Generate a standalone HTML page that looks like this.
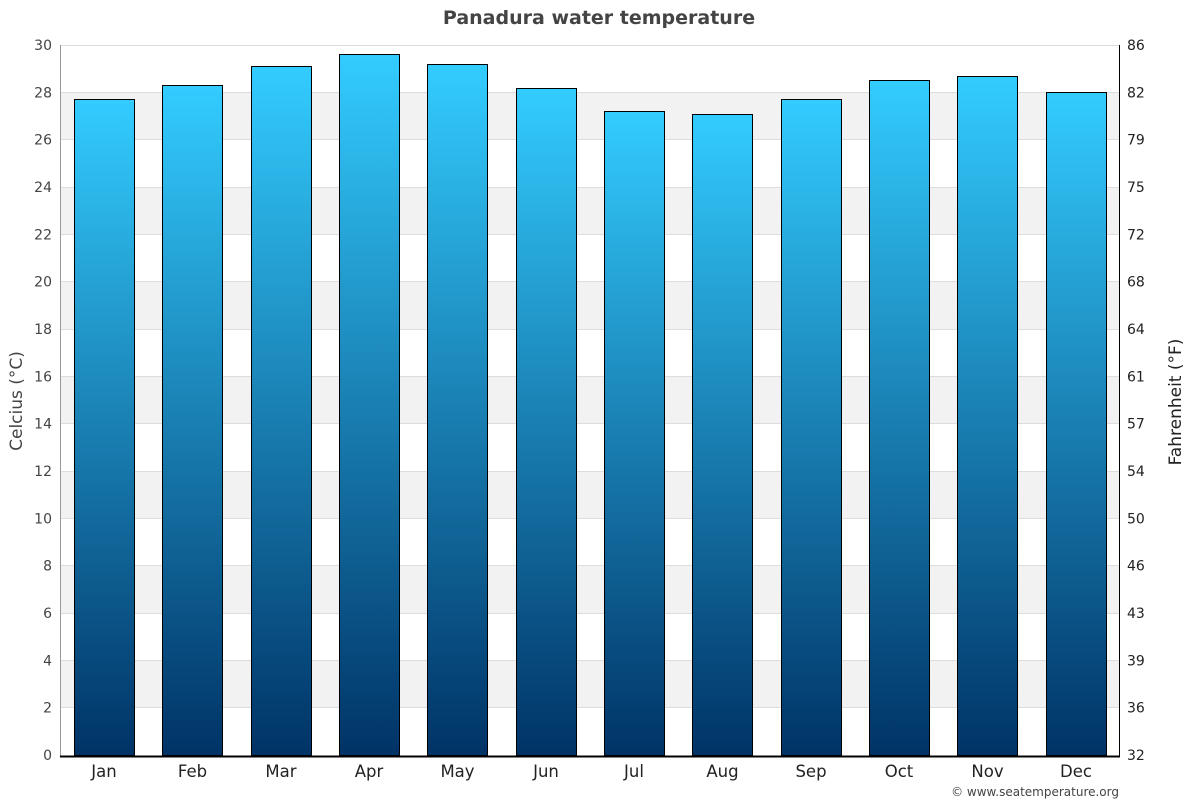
<!DOCTYPE html>
<html><head><meta charset="utf-8"><style>
html,body{margin:0;padding:0;background:#fff;}
svg{display:block;font-family:"DejaVu Sans","Liberation Sans",sans-serif;}
</style></head><body>
<svg width="1200" height="800" viewBox="0 0 1200 800" xmlns="http://www.w3.org/2000/svg">
<defs>
<linearGradient id="g" x1="0" y1="0" x2="0" y2="1">
<stop offset="0" stop-color="#33ccff"/>
<stop offset="1" stop-color="#003366"/>
</linearGradient>
</defs>
<rect width="1200" height="800" fill="#fff"/>
<g fill="#f2f2f2">
<rect x="60" y="92.33" width="1060" height="47.33"/>
<rect x="60" y="187" width="1060" height="47.33"/>
<rect x="60" y="281.67" width="1060" height="47.33"/>
<rect x="60" y="376.33" width="1060" height="47.33"/>
<rect x="60" y="471" width="1060" height="47.33"/>
<rect x="60" y="565.67" width="1060" height="47.33"/>
<rect x="60" y="660.33" width="1060" height="47.33"/>
</g>
<g stroke="#dddddd" stroke-width="1">
<line x1="60" x2="1120" y1="45.5" y2="45.5"/>
<line x1="60" x2="1120" y1="92.5" y2="92.5"/>
<line x1="60" x2="1120" y1="139.5" y2="139.5"/>
<line x1="60" x2="1120" y1="187.5" y2="187.5"/>
<line x1="60" x2="1120" y1="234.5" y2="234.5"/>
<line x1="60" x2="1120" y1="281.5" y2="281.5"/>
<line x1="60" x2="1120" y1="329.5" y2="329.5"/>
<line x1="60" x2="1120" y1="376.5" y2="376.5"/>
<line x1="60" x2="1120" y1="423.5" y2="423.5"/>
<line x1="60" x2="1120" y1="471.5" y2="471.5"/>
<line x1="60" x2="1120" y1="518.5" y2="518.5"/>
<line x1="60" x2="1120" y1="565.5" y2="565.5"/>
<line x1="60" x2="1120" y1="613.5" y2="613.5"/>
<line x1="60" x2="1120" y1="660.5" y2="660.5"/>
<line x1="60" x2="1120" y1="707.5" y2="707.5"/>
</g>
<g fill="url(#g)" stroke="#000" stroke-width="1">
<rect x="74.5" y="99.5" width="60" height="656"/>
<rect x="162.5" y="85.5" width="60" height="670"/>
<rect x="251.5" y="66.5" width="60" height="689"/>
<rect x="339.5" y="54.5" width="60" height="701"/>
<rect x="427.5" y="64.5" width="60" height="691"/>
<rect x="516.5" y="88.5" width="60" height="667"/>
<rect x="604.5" y="111.5" width="60" height="644"/>
<rect x="692.5" y="114.5" width="60" height="641"/>
<rect x="781.5" y="99.5" width="60" height="656"/>
<rect x="869.5" y="80.5" width="60" height="675"/>
<rect x="957.5" y="76.5" width="60" height="679"/>
<rect x="1046.5" y="92.5" width="60" height="663"/>
</g>
<line x1="60.5" x2="60.5" y1="45" y2="756" stroke="#999" stroke-width="1"/>
<line x1="1119.5" x2="1119.5" y1="45" y2="756" stroke="#000" stroke-width="1"/>
<line x1="60" x2="1120" y1="756.5" y2="756.5" stroke="#000" stroke-width="2"/>
<text x="599" y="24" text-anchor="middle" font-size="19" font-weight="bold" fill="#444">Panadura water temperature</text>
<g font-size="14" fill="#444" text-anchor="end">
<text x="52" y="50">30</text>
<text x="52" y="97.3">28</text>
<text x="52" y="144.7">26</text>
<text x="52" y="192">24</text>
<text x="52" y="239.3">22</text>
<text x="52" y="286.7">20</text>
<text x="52" y="334">18</text>
<text x="52" y="381.3">16</text>
<text x="52" y="428.7">14</text>
<text x="52" y="476">12</text>
<text x="52" y="523.3">10</text>
<text x="52" y="570.7">8</text>
<text x="52" y="618">6</text>
<text x="52" y="665.3">4</text>
<text x="52" y="712.7">2</text>
<text x="52" y="760">0</text>
</g>
<g font-size="14" fill="#222" text-anchor="start">
<text x="1127" y="50">86</text>
<text x="1127" y="97.3">82</text>
<text x="1127" y="144.7">79</text>
<text x="1127" y="192">75</text>
<text x="1127" y="239.3">72</text>
<text x="1127" y="286.7">68</text>
<text x="1127" y="334">64</text>
<text x="1127" y="381.3">61</text>
<text x="1127" y="428.7">57</text>
<text x="1127" y="476">54</text>
<text x="1127" y="523.3">50</text>
<text x="1127" y="570.7">46</text>
<text x="1127" y="618">43</text>
<text x="1127" y="665.3">39</text>
<text x="1127" y="712.7">36</text>
<text x="1127" y="760">32</text>
</g>
<text transform="translate(22,401) rotate(-90)" text-anchor="middle" font-size="17" fill="#444">Celcius (°C)</text>
<text transform="translate(1181,402) rotate(-90)" text-anchor="middle" font-size="17" fill="#222">Fahrenheit (°F)</text>
<g font-size="16.5" fill="#222" text-anchor="middle">
<text x="104" y="777">Jan</text>
<text x="192.5" y="777">Feb</text>
<text x="281" y="777">Mar</text>
<text x="369" y="777">Apr</text>
<text x="457.5" y="777">May</text>
<text x="546" y="777">Jun</text>
<text x="634" y="777">Jul</text>
<text x="722.5" y="777">Aug</text>
<text x="811" y="777">Sep</text>
<text x="899" y="777">Oct</text>
<text x="987.5" y="777">Nov</text>
<text x="1076" y="777">Dec</text>
</g>
<text x="1119" y="796" text-anchor="end" font-size="12" fill="#444">© www.seatemperature.org</text>
</svg>
</body></html>
